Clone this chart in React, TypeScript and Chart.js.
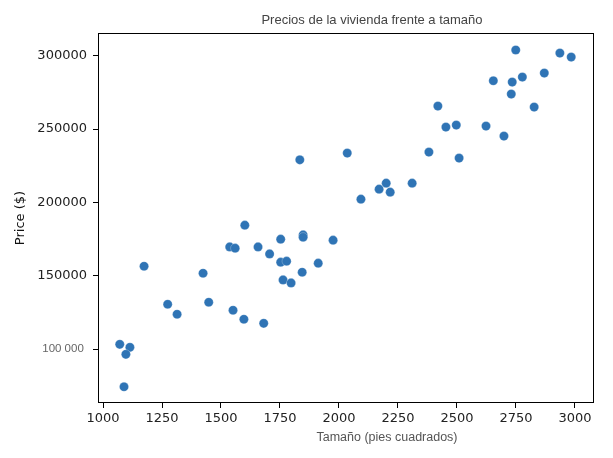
import React, { useEffect, useRef } from "react";
import { Chart, registerables } from "chart.js";

Chart.register(...registerables);

const chartTitle = "Precios de la vivienda frente a tamaño";
const xAxisTitle = "Tamaño (pies cuadrados)";
const yAxisTitle = "Price ($)";

const sizeSqft = [
  2749, 2936, 2984, 2870, 2654, 2734, 2777, 2730, 2827, 2419,
  2453, 2497, 2623, 2699, 2035, 2381, 2509, 2200, 2170, 2217,
  2310, 2093, 1834, 1601, 1537, 1560, 1657, 1706, 1753, 1848,
  1848, 1975, 1174, 1424, 1753, 1778, 1912, 1844, 1763, 1797,
  1274, 1314, 1448, 1551, 1597, 1681, 1071, 1114, 1097, 1089,
];

const prices = [
  303900, 301800, 299100, 288200, 282950, 282060, 285470, 273880, 265020, 265700,
  251380, 252740, 252060, 245240, 233640, 234320, 230230, 213180, 209090, 207050,
  213180, 202270, 229070, 184540, 169740, 168850, 169740, 164960, 174990, 177920,
  176350, 174310, 156570, 151800, 159300, 159990, 158620, 152480, 147230, 145190,
  130660, 123840, 132020, 126570, 120430, 117700, 103380, 101330, 96560, 74460,
];

const xTicks = [1000, 1250, 1500, 1750, 2000, 2250, 2500, 2750, 3000];
const yTicks = [100000, 150000, 200000, 250000, 300000];
const specialYTick = 100000;

export default function App() {
  const canvasRef = useRef<HTMLCanvasElement | null>(null);

  useEffect(() => {
    const canvas = canvasRef.current;
    if (!canvas) return;

    const textPlugin = {
      id: "customText",
      afterDraw(chart: any) {
        const { ctx, chartArea } = chart;
        ctx.save();
        // frame
        ctx.strokeStyle = "#000";
        ctx.lineWidth = 1;
        const l = Math.round(chartArea.left) + 0.5;
        const t = Math.round(chartArea.top) + 0.5;
        const r = Math.round(chartArea.right) - 0.5;
        const b = Math.round(chartArea.bottom) - 0.5;
        ctx.strokeRect(l, t, r - l, b - t);

        // title
        ctx.fillStyle = "#444";
        ctx.textAlign = "center";
        ctx.textBaseline = "middle";
        ctx.font = '13px "Liberation Sans"';
        ctx.fillText(chartTitle, 372, 20);

        // x title
        ctx.font = '12.5px "Liberation Sans"';
        ctx.fillStyle = "#555";
        ctx.fillText(xAxisTitle, 387, 438);

        // y title
        ctx.translate(21, (chartArea.top + chartArea.bottom) / 2);
        ctx.rotate(-Math.PI / 2);
        ctx.font = '13px "DejaVu Sans"';
        ctx.fillStyle = "#111";
        ctx.fillText(yAxisTitle, 0, 0);
        ctx.restore();
      },
    };

    const chart = new Chart(canvas, {
      type: "scatter",
      data: {
        datasets: [
          {
            data: sizeSqft.map((x, i) => ({ x, y: prices[i] })),
            backgroundColor: "#2f74b5",
            borderColor: "rgba(255,255,255,0.5)",
            borderWidth: 0.5,
            pointRadius: 4.6,
            pointHoverRadius: 4.6,
          },
        ],
      },
      options: {
        responsive: false,
        animation: false,
        events: [],
        layout: { padding: { top: 33, right: 19, left: 0, bottom: 0 } },
        plugins: {
          legend: { display: false },
          title: { display: false },
          tooltip: { enabled: false },
        },
        scales: {
          x: {
            type: "linear",
            min: 978.8,
            max: 3080.6,
            afterFit: (scale: any) => {
              scale.height = 55;
            },
            afterBuildTicks: (scale: any) => {
              scale.ticks = xTicks.map((v) => ({ value: v }));
            },
            border: { display: false },
            grid: {
              display: true,
              drawOnChartArea: false,
              drawTicks: true,
              tickLength: 5,
              color: "#000",
            },
            ticks: {
              autoSkip: false,
              maxRotation: 0,
              padding: 3,
              color: "#222",
              font: { family: '"DejaVu Sans"', size: 13 },
              callback: (v: any) => String(v),
            },
          },
          y: {
            type: "linear",
            min: 63380,
            max: 315480,
            afterFit: (scale: any) => {
              scale.width = 98;
            },
            afterBuildTicks: (scale: any) => {
              scale.ticks = yTicks.map((v) => ({ value: v }));
            },
            border: { display: false },
            grid: {
              display: true,
              drawOnChartArea: false,
              drawTicks: true,
              tickLength: 5,
              color: "#000",
            },
            ticks: {
              autoSkip: false,
              padding: 6,
              color: (ctx: any) => (ctx.tick && ctx.tick.value === specialYTick ? "#666" : "#222"),
              font: (ctx: any) =>
                ctx.tick && ctx.tick.value === specialYTick
                  ? { family: '"Liberation Sans"', size: 11.5 }
                  : { family: '"DejaVu Sans"', size: 13 },
              callback: (v: any) =>
                v === specialYTick ? "100 000 " : String(v),
            },
          },
        },
      },
      plugins: [textPlugin],
    });

    return () => chart.destroy();
  }, []);

  return (
    <div style={{ position: "fixed", left: 0, top: 0, width: 613, height: 458, background: "#fff" }}>
      <canvas ref={canvasRef} width={613} height={458} style={{ display: "block" }} />
    </div>
  );
}
